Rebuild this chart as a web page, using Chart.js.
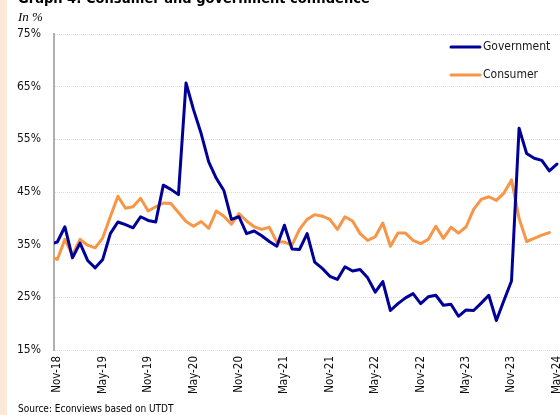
<!DOCTYPE html>
<html>
<head>
<meta charset="utf-8">
<title>Consumer and government confidence</title>
<script src="https://cdn.jsdelivr.net/npm/chart.js@4.4.1/dist/chart.umd.min.js"></script>
<style>
  html, body { margin:0; padding:0; background:#fff; overflow:hidden; }
  body { width:560px; height:415px; position:relative; font-family:"DejaVu Sans Condensed","DejaVu Sans",sans-serif; color:#000; }
  #strip { position:absolute; left:0; top:0; width:7px; height:415px; background:#fce8d8; z-index:2; }
  #title { position:absolute; left:18px; top:-9px; font-weight:bold; font-size:14.5px; line-height:15px; white-space:nowrap; z-index:2; }
  #unit { position:absolute; left:18px; top:10px; font-family:"Liberation Serif",serif; font-style:italic; font-size:13px; line-height:14px; z-index:2; }
  #source { position:absolute; left:18px; top:402px; font-size:10px; line-height:14px; white-space:nowrap; z-index:2; }
  #chart { position:absolute; left:0; top:0; }
</style>
</head>
<body>
<div id="strip"></div>
<div id="title">Graph 4: Consumer and government confidence</div>
<div id="unit">In %</div>
<canvas id="chart" width="580" height="415"></canvas>
<div id="source">Source: Econviews based on UTDT</div>

<script>
// Meses (Oct-18 a May-24)
var months = [
  'Oct-18','Nov-18','Dec-18',
  'Jan-19','Feb-19','Mar-19','Apr-19','May-19','Jun-19','Jul-19','Aug-19','Sep-19','Oct-19','Nov-19','Dec-19',
  'Jan-20','Feb-20','Mar-20','Apr-20','May-20','Jun-20','Jul-20','Aug-20','Sep-20','Oct-20','Nov-20','Dec-20',
  'Jan-21','Feb-21','Mar-21','Apr-21','May-21','Jun-21','Jul-21','Aug-21','Sep-21','Oct-21','Nov-21','Dec-21',
  'Jan-22','Feb-22','Mar-22','Apr-22','May-22','Jun-22','Jul-22','Aug-22','Sep-22','Oct-22','Nov-22','Dec-22',
  'Jan-23','Feb-23','Mar-23','Apr-23','May-23','Jun-23','Jul-23','Aug-23','Sep-23','Oct-23','Nov-23','Dec-23',
  'Jan-24','Feb-24','Mar-24','Apr-24','May-24'
];

// Etiquetas del eje X
var tickLabels = ['Nov-18','May-19','Nov-19','May-20','Nov-20','May-21','Nov-21','May-22','Nov-22','May-23','Nov-23','May-24'];

// Confianza en el gobierno (%)
var government = [
  35.1, 35.5, 38.4,
  32.5, 35.3, 32.0, 30.6, 32.2, 37.1, 39.3, 38.8, 38.2, 40.3, 39.6, 39.3,
  46.3, 45.5, 44.5, 65.7, 60.6, 56.1, 50.7, 47.6, 45.3, 39.8, 40.3, 37.1,
  37.6, 36.7, 35.6, 34.7, 38.7, 34.2, 34.1, 37.1, 31.7, 30.5, 29.0, 28.4,
  30.8, 30.0, 30.3, 28.7, 26.0, 28.0, 22.5, 23.8, 24.9, 25.7, 23.8, 25.1,
  25.4, 23.5, 23.7, 21.4, 22.6, 22.5, 23.9, 25.4, 20.6, 24.4, 28.1, 57.1,
  52.3, 51.4, 51.0, 49.0, 50.3
];

// Confianza del consumidor (%)
var consumer = [
  32.8, 32.2, 36.0,
  33.0, 36.0, 34.9, 34.4, 36.3, 40.3, 44.2, 41.9, 42.2, 43.8, 41.4, 42.2,
  42.9, 42.8, 41.1, 39.4, 38.5, 39.4, 38.1, 41.4, 40.4, 38.9, 40.9, 39.5,
  38.4, 37.9, 38.3, 35.5, 35.5, 34.9, 37.9, 39.8, 40.7, 40.4, 39.8, 37.9,
  40.3, 39.5, 37.1, 35.8, 36.5, 39.1, 34.7, 37.2, 37.2, 35.8, 35.2, 36.0,
  38.5, 36.2, 38.3, 37.2, 38.4, 41.7, 43.6, 44.1, 43.4, 44.8, 47.3, 40.0,
  35.6, 36.2, 36.8, 37.3, null
];

var FONT = '"DejaVu Sans Condensed","DejaVu Sans",sans-serif';

function toPoints(arr){
  var out = [];
  arr.forEach(function(v, i){ if(v !== null) out.push({x:i, y:v}); });
  return out;
}

// Leyenda arriba a la derecha
var sideLegend = {
  id:'sideLegend',
  afterDraw: function(chart){
    var c = chart.ctx;
    var rows = [47, 75];
    chart.data.datasets.forEach(function(ds, i){
      c.save();
      c.strokeStyle = ds.borderColor;
      c.lineWidth = 3;
      c.lineCap = 'round';
      c.beginPath();
      c.moveTo(451, rows[i]);
      c.lineTo(480, rows[i]);
      c.stroke();
      c.fillStyle = '#1a1a1a';
      c.font = '12px ' + FONT;
      c.textBaseline = 'middle';
      c.fillText(ds.label, 483, rows[i]);
      c.restore();
    });
  }
};

Chart.defaults.font.family = FONT;

var ctx = document.getElementById('chart').getContext('2d');
var chart = new Chart(ctx, {
  type:'line',
  data:{
    datasets:[
      {label:'Government', data:toPoints(government), borderColor:'#000099', borderWidth:3,
       pointRadius:0, tension:0, fill:false, borderJoinStyle:'round', borderCapStyle:'round', clip:0},
      {label:'Consumer', data:toPoints(consumer), borderColor:'#f79646', borderWidth:3,
       pointRadius:0, tension:0, fill:false, borderJoinStyle:'round', borderCapStyle:'round', clip:0}
    ]
  },
  options:{
    responsive:false,
    animation:false,
    layout:{ padding:{ top:34, right:14, bottom:0, left:0 } },
    plugins:{ legend:{ display:false }, tooltip:{ enabled:false } },
    scales:{
      x:{
        type:'linear', min:0.56, max:68.2,
        grid:{ display:false, drawTicks:false },
        border:{ display:false },
        afterBuildTicks:function(s){
          s.ticks = tickLabels.map(function(l){ return {value: months.indexOf(l)}; });
        },
        afterFit:function(s){ s.height = 65; },
        ticks:{ autoSkip:false, minRotation:90, maxRotation:90, padding:6, color:'#111',
                font:{ size:11.5 }, callback:function(v){ return months[v]; } }
      },
      y:{
        min:15, max:75,
        afterFit:function(s){ s.width = 54; },
        grid:{ color:'#dcdcdc', drawTicks:false },
        border:{ display:true, color:'#b0b0b0', width:2, dash:[1,1] },
        ticks:{ stepSize:10, padding:13, color:'#111', font:{ size:12 },
                callback:function(v){ return v + '%'; } }
      }
    }
  },
  plugins:[sideLegend]
});
</script>
</body>
</html>
